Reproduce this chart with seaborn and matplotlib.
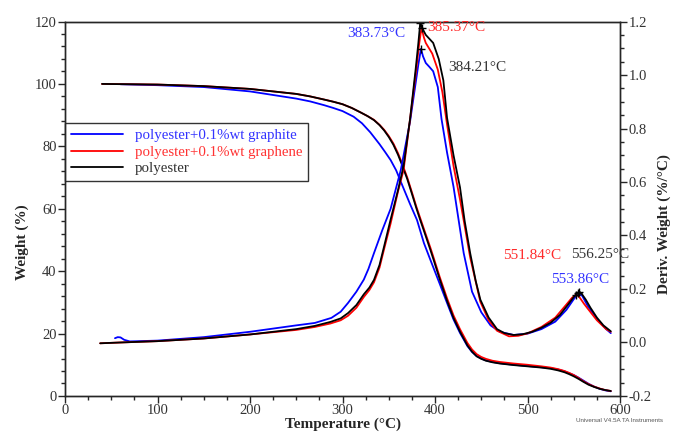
import pandas as pd
import matplotlib
matplotlib.use("Agg")
import matplotlib.pyplot as plt
from matplotlib.ticker import MultipleLocator, FormatStrFormatter
import seaborn as sns

# === Weight curves (Temperature °C, Weight %) ===
t_w_ps = [40, 100, 150, 200, 250, 265, 280, 290, 300, 310, 320, 327, 334, 340, 345, 350, 355, 360, 364,
          370, 375, 380, 384, 390, 395, 398.5, 405, 413, 420, 427, 435, 440, 445, 450, 455, 462, 470,
          485, 500, 515, 525, 533, 540, 545, 550, 555, 560, 566, 572, 578, 584, 590]
w_ps = [100, 99.8, 99.3, 98.4, 96.8, 96.0, 95.0, 94.3, 93.5, 92.3, 90.8, 89.7, 88.4, 86.8, 85.1, 83.0,
        80.5, 77.3, 74.3, 69.5, 64.8, 60.0, 56.4, 51.2, 46.8, 43.6, 37.5, 30.5, 25.0, 20.6, 16.2, 14.2,
        12.7, 11.9, 11.3, 10.8, 10.4, 9.9, 9.5, 9.1, 8.7, 8.2, 7.6, 7.0, 6.3, 5.5, 4.6, 3.6, 2.9, 2.3,
        1.9, 1.6]

t_w_gn = t_w_ps
w_gn = [100, 99.8, 99.3, 98.4, 96.8, 96.0, 95.0, 94.3, 93.5, 92.3, 90.8, 89.7, 88.5, 86.9, 85.3, 83.3,
        80.9, 77.8, 74.8, 70.0, 65.3, 60.5, 57.0, 51.8, 47.5, 44.3, 38.2, 31.3, 25.8, 21.4, 17.0, 14.9,
        13.4, 12.5, 11.9, 11.3, 10.9, 10.4, 10.0, 9.5, 9.1, 8.6, 8.0, 7.4, 6.7, 5.8, 4.8, 3.8, 3.0, 2.4,
        1.9, 1.6]

t_w_gt = [60, 100, 150, 200, 250, 265, 280, 290, 300, 312, 321, 330, 340, 346, 352, 358, 366, 373,
          380.5, 388, 395, 405, 413, 420, 427, 435, 440, 445, 450, 455, 462, 470, 485, 500, 515, 525,
          533, 540, 545, 550, 555, 560, 566, 572, 578, 584, 590]
w_gt = [99.9, 99.6, 99.0, 97.6, 95.3, 94.4, 93.2, 92.3, 91.3, 89.5, 87.4, 84.5, 80.7, 78.2, 75.6, 72.3,
        66.5, 61.5, 56.4, 49.0, 43.6, 36.0, 29.8, 24.5, 20.2, 16.0, 14.1, 12.8, 12.0, 11.4, 10.9, 10.5,
        10.0, 9.6, 9.2, 8.9, 8.5, 7.9, 7.3, 6.7, 5.9, 5.0, 3.9, 3.0, 2.3, 1.8, 1.5]

# === Derivative curves (Temperature °C, Deriv. Weight %/°C) ===
t_d_ps = [38, 60, 100, 150, 200, 250, 270, 287, 298, 306, 315, 323, 329, 334, 340, 345, 352, 360, 366,
          373, 379, 382, 384, 387, 390, 398, 404, 409, 413, 420, 427, 432, 438, 444, 449, 458, 467, 475,
          485, 495, 505, 515, 525, 535, 545, 550, 554, 556, 559, 563, 568, 575, 582, 590]
d_ps = [-0.003, 0.0, 0.005, 0.015, 0.03, 0.05, 0.062, 0.077, 0.09, 0.11, 0.14, 0.18, 0.205, 0.234,
        0.29, 0.36, 0.46, 0.57, 0.66, 0.835, 1.02, 1.12, 1.195, 1.17, 1.15, 1.12, 1.06, 0.98, 0.84, 0.7,
        0.58, 0.455, 0.334, 0.23, 0.16, 0.093, 0.05, 0.035, 0.028, 0.031, 0.04, 0.055, 0.074, 0.103,
        0.147, 0.17, 0.185, 0.19, 0.18, 0.16, 0.13, 0.093, 0.064, 0.042]

t_d_gn = [38, 60, 100, 150, 200, 250, 270, 287, 298, 306, 315, 323, 329, 334, 340, 345, 352, 360, 366,
          373, 380, 383, 385.4, 388, 390, 397, 403, 408, 413, 420, 427, 438, 449, 458, 467, 480, 490,
          500, 515, 530, 542, 548, 552, 555, 557, 561, 565, 575, 585, 590]
d_gn = [-0.003, 0.0, 0.005, 0.015, 0.03, 0.047, 0.058, 0.071, 0.083, 0.1, 0.13, 0.17, 0.196, 0.225,
        0.28, 0.35, 0.445, 0.565, 0.645, 0.835, 1.03, 1.12, 1.177, 1.14, 1.12, 1.08, 1.02, 0.935, 0.815,
        0.66, 0.535, 0.318, 0.152, 0.083, 0.044, 0.023, 0.025, 0.034, 0.058, 0.093, 0.142, 0.167, 0.178,
        0.174, 0.165, 0.145, 0.127, 0.083, 0.05, 0.04]

t_d_gt = [54, 57, 60, 64, 70, 100, 150, 200, 250, 270, 288, 298, 306, 315, 323, 328, 334, 343, 352,
          363, 373, 378, 382, 384.8, 387, 390, 394, 398, 403, 407, 413, 420, 431, 440, 450, 460, 470,
          485, 500, 515, 530, 542, 550, 555, 559, 565, 575, 585, 590]
d_gt = [0.016, 0.02, 0.019, 0.01, 0.004, 0.007, 0.02, 0.04, 0.064, 0.073, 0.092, 0.115, 0.148, 0.19,
        0.235, 0.275, 0.334, 0.42, 0.5, 0.645, 0.826, 0.945, 1.04, 1.098, 1.07, 1.045, 1.03, 1.014,
        0.955, 0.836, 0.71, 0.582, 0.334, 0.19, 0.113, 0.064, 0.04, 0.028, 0.033, 0.05, 0.078, 0.122,
        0.162, 0.185, 0.175, 0.137, 0.088, 0.05, 0.035]

# === Peak annotations ===
peak_t = [384.8, 385.4, 384.0, 552.0, 556.0, 555.0]
peak_d = [1.098, 1.177, 1.195, 0.178, 0.19, 0.185]
peak_labels = ["383.73°C", "385.37°C", "384.21°C", "551.84°C", "556.25°C", "553.86°C"]
peak_colors = ["#3333ff", "#ff2a2a", "#333333", "#ff2a2a", "#333333", "#3333ff"]
label_pos = [(336, 1.155, "center"), (391, 1.177, "left"), (414, 1.027, "left"),
             (505, 0.324, "center"), (578, 0.33, "center"), (557, 0.234, "center")]

series_names = ["polyester+0.1%wt graphite", "polyester+0.1%wt graphene", "polyester"]
colors = {"polyester+0.1%wt graphite": "#0000ff",
          "polyester+0.1%wt graphene": "#ff0000",
          "polyester": "#000000"}
text_colors = ["#3333ff", "#ff3333", "#333333"]

weight_df = pd.concat([
    pd.DataFrame({"T": t_w_gt, "v": w_gt, "s": series_names[0]}),
    pd.DataFrame({"T": t_w_gn, "v": w_gn, "s": series_names[1]}),
    pd.DataFrame({"T": t_w_ps, "v": w_ps, "s": series_names[2]}),
])
deriv_df = pd.concat([
    pd.DataFrame({"T": t_d_gt, "v": d_gt, "s": series_names[0]}),
    pd.DataFrame({"T": t_d_gn, "v": d_gn, "s": series_names[1]}),
    pd.DataFrame({"T": t_d_ps, "v": d_ps, "s": series_names[2]}),
])

sns.set_style("ticks")
plt.rcParams['font.family'] = ['Liberation Serif', 'DejaVu Serif']

fig = plt.figure(figsize=(6.73, 4.33), dpi=100)
ax = fig.add_axes([0.0966, 0.0855, 0.8247, 0.8648])
ax2 = ax.twinx()

sns.lineplot(data=weight_df, x="T", y="v", hue="s", palette=colors, sort=False,
             estimator=None, lw=1.3, ax=ax, legend=False)
sns.lineplot(data=deriv_df, x="T", y="v", hue="s", palette=colors, sort=False,
             estimator=None, lw=1.3, ax=ax2, legend=False)

# peak markers and labels
for t, d, lab, c, (lx, ly, ha) in zip(peak_t, peak_d, peak_labels, peak_colors, label_pos):
    ax2.plot([t], [d], marker="+", color="black", ms=6, mew=1)
    ax2.text(lx, ly, lab, color=c, fontsize=11, ha=ha, va="center", clip_on=False)

ax.set_xlim(0, 600)
ax.set_ylim(0, 120)
ax2.set_ylim(-0.2, 1.2)
ax.xaxis.set_major_locator(MultipleLocator(100))
ax.xaxis.set_minor_locator(MultipleLocator(25))
ax.yaxis.set_major_locator(MultipleLocator(20))
ax.yaxis.set_minor_locator(MultipleLocator(4))
ax2.yaxis.set_major_locator(MultipleLocator(0.2))
ax2.yaxis.set_minor_locator(MultipleLocator(0.05))
ax2.yaxis.set_major_formatter(FormatStrFormatter("%.1f"))

for a in (ax, ax2):
    a.tick_params(which="major", length=5, width=1, labelsize=10.5, labelcolor="#333333", pad=1)
    a.tick_params(which="minor", length=3, width=1)
    for sp in a.spines.values():
        sp.set_visible(True)
        sp.set_linewidth(1)

ax.set_xlabel("Temperature (°C)", fontsize=11, fontweight="bold")
ax.set_ylabel("Weight (%)", fontsize=11, fontweight="bold")
ax2.set_ylabel("Deriv. Weight (%/°C)", fontsize=11, fontweight="bold", rotation=90)
ax.xaxis.set_label_coords(0.5, -0.057)
ax.yaxis.set_label_coords(-0.065, 0.411)
ax2.yaxis.set_label_coords(1.068, 0.46)

handles = [plt.Line2D([], [], color=colors[n], lw=1.3) for n in series_names]
leg = ax.legend(handles, series_names, loc="upper left", bbox_to_anchor=(0.0, 0.729),
                borderaxespad=0, fontsize=10.7, frameon=True, fancybox=False,
                handlelength=3.5, handletextpad=0.8, borderpad=0.4, labelspacing=0.2)
leg.get_frame().set_edgecolor("black")
leg.get_frame().set_linewidth(1)
for txt, c in zip(leg.get_texts(), text_colors):
    txt.set_color(c)

fig.text(0.856, 0.028, "Universal V4.5A TA Instruments", fontsize=4.5, color="#555555",
         va="center", family=["Liberation Sans", "DejaVu Sans"])

fig.savefig("out.png", dpi=100)
